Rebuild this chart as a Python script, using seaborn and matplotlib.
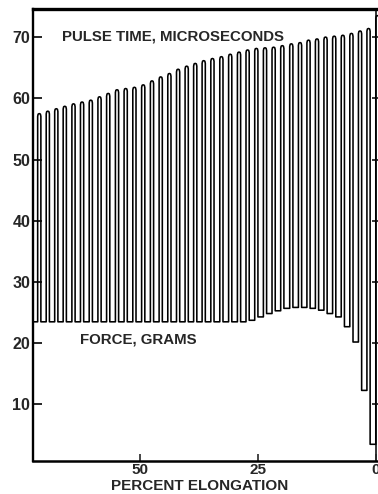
import matplotlib
matplotlib.use("Agg")
import matplotlib.pyplot as plt
import pandas as pd
import seaborn as sns

# ---- data ----
# centre of each pulse (percent elongation)
pulse_x = [71.42, 69.61, 67.81, 66.01, 64.16, 62.34, 60.49, 58.64, 56.80, 54.93,
           53.09, 51.24, 49.37, 47.51, 45.66, 43.82, 41.97, 40.15, 38.34, 36.54,
           34.69, 32.79, 30.92, 29.05, 27.23, 25.38, 23.54, 21.71, 19.87, 17.96,
           16.11, 14.31, 12.51, 10.70, 8.86, 7.03, 5.21, 3.38, 1.58, -0.30]
# pulse time (top of each pulse, microseconds)
pulse_time = [57.5, 57.9, 58.3, 58.7, 59.1, 59.4, 59.7, 60.25, 60.8, 61.4,
              61.6, 61.8, 62.2, 62.85, 63.5, 64.05, 64.75, 65.25, 65.7, 66.15,
              66.5, 66.8, 67.2, 67.55, 67.9, 68.15, 68.25, 68.35, 68.6, 68.9,
              69.1, 69.5, 69.7, 70.0, 70.15, 70.3, 70.6, 71.0, 71.4, 73.5]
# force (bottom before each pulse, grams)
force = [23.5, 23.5, 23.5, 23.5, 23.5, 23.5, 23.5, 23.5, 23.5, 23.5,
         23.5, 23.5, 23.5, 23.5, 23.5, 23.5, 23.5, 23.5, 23.5, 23.5,
         23.5, 23.5, 23.5, 23.5, 23.5, 23.75, 24.3, 24.85, 25.3, 25.7,
         25.85, 25.85, 25.7, 25.4, 24.85, 24.3, 22.7, 20.2, 12.3, 3.5]
x_ticks = [50, 25, 0]
x_tick_labels = ["50", "25", "0"]
y_ticks = [10, 20, 30, 40, 50, 60, 70]
y_tick_labels = ["10", "20", "30", "40", "50", "60", "70"]
x_label = "PERCENT ELONGATION"
top_label = "PULSE TIME, MICROSECONDS"
bottom_label = "FORCE, GRAMS"

# ---- styling ----
sns.set_style("ticks")
plt.rcParams['font.family'] = ['Liberation Sans', 'DejaVu Sans']

XLIM = (72.75, -0.43)
YLIM = (0.82, 74.58)
HW = 0.34  # half width of a pulse in x units

# build the trace path from the data
xs, ys = [XLIM[0]], [force[0]]
for k, (c, top) in enumerate(zip(pulse_x, pulse_time)):
    xs += [c + HW, c + HW, c + 0.7 * HW, c, c - 0.7 * HW, c - HW]
    ys += [force[k], top - 0.45, top - 0.08, top, top - 0.08, top - 0.45]
    if k + 1 < len(pulse_x):
        xs.append(c - HW)
        ys.append(force[k + 1])
trace = pd.DataFrame({"x": xs, "y": ys})

fig = plt.figure(figsize=(3.78, 4.94), dpi=100)
ax = fig.add_axes([33 / 378, 33.3 / 494, 345 / 378, 451.7 / 494])
sns.lineplot(data=trace, x="x", y="y", sort=False, estimator=None,
             color="black", linewidth=1.15, ax=ax)
ax.set_xlim(*XLIM)
ax.set_ylim(*YLIM)

ax.set_xticks(x_ticks)
ax.set_xticklabels(x_tick_labels, fontsize=11, fontweight="bold")
ax.set_yticks(y_ticks)
ax.set_yticklabels(y_tick_labels, fontsize=11.5, fontweight="bold")
ax.tick_params(axis="x", direction="in", length=5, width=1.2, pad=2)
ax.tick_params(axis="y", direction="in", length=6.5, width=1.4, pad=2)

ax.set_xlabel(x_label, fontsize=11, fontweight="bold")
ax.xaxis.label.set_va("top")
ax.xaxis.set_label_coords((200 - 33) / 345, -0.0405)
ax.set_ylabel("")

for side, lw in (("left", 1.7), ("bottom", 1.8), ("top", 2.4)):
    ax.spines[side].set_linewidth(lw)
    ax.spines[side].set_color("black")
ax.spines["right"].set_visible(False)

# right-hand axis at 0 % elongation
loc = (XLIM[0] - 0) / (XLIM[0] - XLIM[1])
sec = ax.secondary_yaxis(loc)
sec.set_yticks(y_ticks)
sec.tick_params(direction="inout", length=6, width=1.3, labelleft=False, labelright=False)
sec.spines["right"].set_linewidth(1.3)
sec.spines["left"].set_linewidth(1.3)

ax.text(66.66, 70.15, top_label, fontsize=10.8, fontweight="bold",
        ha="left", va="center")
ax.text(62.78, 20.65, bottom_label, fontsize=10.8, fontweight="bold",
        ha="left", va="center")

fig.savefig("out.png", dpi=100)
